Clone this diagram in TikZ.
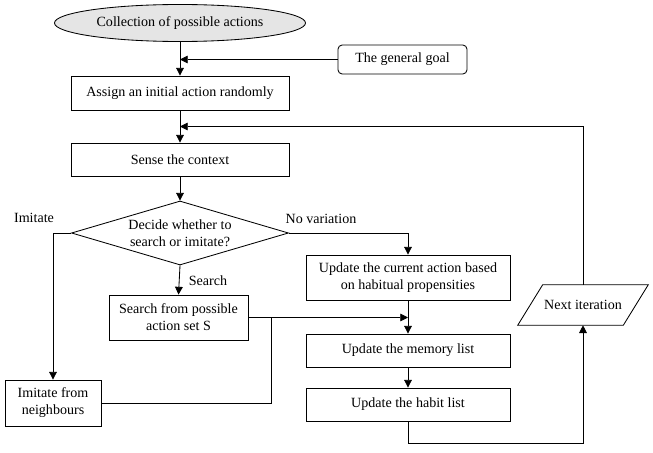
\documentclass[tikz,border=0pt]{standalone}
\usepackage{fontspec}
\setmainfont{Liberation Serif}
\usepackage{tikz}
\usetikzlibrary{arrows.meta, calc, shapes.geometric}
\tikzset{
	flowbox/.style={draw, line width=0.6pt, minimum width=#1, font=\fontsize{10}{12}\selectfont, align=center, inner sep=2pt},
	flowbox/.default=5.45cm,
	startbox/.style={draw, ellipse, fill=gray!20, line width=0.6pt, minimum width=6.275cm, minimum height=0.925cm, font=\fontsize{10}{12}\selectfont},
	goalbox/.style={draw, rounded corners=3pt, line width=0.6pt, minimum width=3.225cm, minimum height=0.725cm, font=\fontsize{10}{12}\selectfont},
	decbox/.style={draw, diamond, aspect=3.4, inner sep=0pt, line width=0.6pt, minimum width=5.425cm, minimum height=1.6cm, font=\fontsize{10}{12}\selectfont, align=center},
	iterbox/.style={minimum width=2.625cm, minimum height=1cm, inner sep=2pt, font=\fontsize{10}{12}\selectfont},
	flowarr/.style={-{Triangle[length=5.5pt, width=5.5pt]}, line width=0.6pt},
	flowline/.style={line width=0.6pt},
	edgelabel/.style={font=\fontsize{10}{12}\selectfont, inner sep=1pt},
}

\begin{document}
\begin{tikzpicture}[x=0.025cm, y=-0.025cm]
	\useasboundingbox (0,0) rectangle (653,453);
	% main column
	\node[startbox] (actions) at (180,23) {Collection of possible actions};
	\node[goalbox] (goal) at (402.5,59.5) {The general goal};
	\node[flowbox, minimum height=0.85cm] (assign) at (180,93) {Assign an initial action randomly};
	\node[flowbox, minimum height=0.825cm] (sense) at (180,159.5) {Sense the context};
	\node[decbox] (decide) at (180,233) {Decide whether to\\search or imitate?};
	\node[flowbox=3.475cm, minimum height=1.125cm] (search) at (178.5,317.5) {Search from possible\\action set S};
	\node[flowbox=2.4cm, minimum height=1.15cm] (imitate) at (53,403) {Imitate from\\neighbours};
	% update column
	\node[flowbox=5.1cm, minimum height=1.125cm] (current) at (408,277.5) {Update the current action based\\on habitual propensities};
	\node[flowbox=5.1cm, minimum height=0.825cm] (memory) at (408,350.5) {Update the memory list};
	\node[flowbox=5.1cm, minimum height=0.825cm] (habit) at (408,404.5) {Update the habit list};
	\node[iterbox] (next) at (583,305) {Next iteration};
	\draw[flowline] ($(next.south west)+(-12.5,0)$) -- ($(next.north west)+(12.5,0)$)
		-- ($(next.north east)+(12.5,0)$) -- ($(next.south east)+(-12.5,0)$) -- cycle;
	% labels
	\node[edgelabel] (imitatelbl) at (34,218) {Imitate};
	\node[edgelabel] (novarlbl) at (321,219) {No variation};
	\node[edgelabel] (searchlbl) at (208,281) {Search};
	\coordinate (loopin) at ($(assign.south)!0.5!(sense.north)$);
	\coordinate (merge) at (271,317.5);
	% connectors
	\draw[flowarr] (actions) -- (assign);
	\draw[flowarr] (goal.west) -- (goal.west -| assign.north);
	\draw[flowarr] (assign) -- (sense);
	\draw[flowarr] (next.north) |- (loopin);
	\draw[flowarr] (sense) -- (decide);
	\draw[flowarr] (decide.west) -| (imitate.north);
	\draw[flowarr] (decide.east) -| (current.north);
	\draw[flowarr] (decide.south) -- (search.north);
	\draw[flowarr] (search.east) -- (search.east -| current.south);
	\draw[flowline] (imitate.east) -| (merge);
	\draw[flowarr] (current) -- (memory);
	\draw[flowarr] (memory) -- (habit);
	\draw[flowarr] (habit.south) -- ++(0,22) -| (next.south);
\end{tikzpicture}
\end{document}
